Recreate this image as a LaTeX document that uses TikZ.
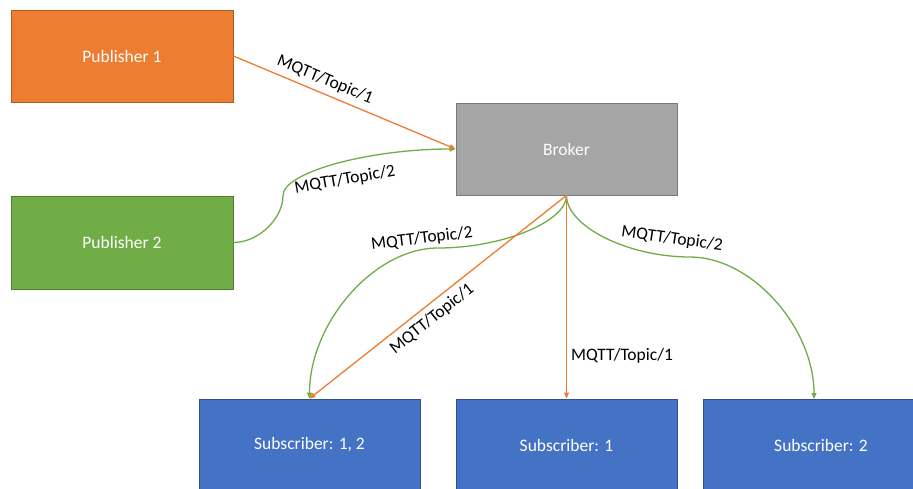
\documentclass[tikz,border=0pt]{standalone}
\usepackage{fontspec}
\setmainfont{Carlito}
\usetikzlibrary{arrows.meta}
\definecolor{cOrange}{HTML}{ED7D31}
\definecolor{cOrangeD}{HTML}{AE5A21}
\definecolor{cGreen}{HTML}{70AD47}
\definecolor{cGreenD}{HTML}{507E32}
\definecolor{cGray}{HTML}{A5A5A5}
\definecolor{cGrayD}{HTML}{787878}
\definecolor{cBlue}{HTML}{4472C4}
\definecolor{cBlueD}{HTML}{2F528F}
\begin{document}
\begin{tikzpicture}[x=1pt,y=-1pt,
  box/.style={draw, line width=0.8pt, minimum width=222pt, minimum height=92pt, inner sep=0pt, text=white, font=\fontsize{17.5}{20}\selectfont},
  lbl/.style={font=\fontsize{17.5}{20}\selectfont, text=black, inner sep=0pt},
  conn/.style={line width=1.3pt, -{Triangle[length=6pt,width=5pt]}}]
\useasboundingbox (0,0) rectangle (913,489);
\clip (0,0) rectangle (913,489);
\fill[white] (0,0) rectangle (913,489);

\node[box, fill=cOrange, draw=cOrangeD] (p1) at (122,56) {Publisher 1};
\node[box, fill=cGreen, draw=cGreenD, minimum height=93pt] (p2) at (122,242.5) {Publisher 2};
\node[box, fill=cGray, draw=cGrayD, minimum width=221pt] (br) at (566.5,149) {Broker};
\node[box, fill=cBlue, draw=cBlueD, minimum width=221pt] (s12) at (309.5,445) {Subscriber: 1, 2};
\node[box, fill=cBlue, draw=cBlueD, minimum width=221pt] (s1) at (566.5,445) {Subscriber: 1};
\node[box, fill=cBlue, draw=cBlueD, minimum width=236pt] (s2) at (821,445) {Subscriber: 2};

\coordinate (m1) at (283,195.5);
\coordinate (m2) at (438,248);
\coordinate (m3) at (690,257);
\coordinate (s2in) at (814,399);

% green connectors
\draw[conn, cGreen] (p2.east) .. controls +(25,0) and +(0,23.25) .. (m1)
      .. controls +(0,-23.25) and +(-86.5,0) .. (br.west);
\draw[conn, cGreen] (br.south) .. controls +(0,26.5) and +(64,0) .. (m2)
      .. controls +(-64,0) and +(0,-75.5) .. (s12.north);
\draw[conn, cGreen] (br.south) .. controls +(0,31) and +(-62,0) .. (m3)
      .. controls +(62,0) and +(0,-71) .. (s2in);

% orange connectors
\draw[conn, cOrange] (p1.east) -- (br.west);
\draw[conn, cOrange] (br.south) -- (s12.north);
\draw[conn, cOrange] (br.south) -- (s1.north);

% labels
\node[lbl, rotate=-22.4] (l1) at (325,80) {MQTT/Topic/1};
\node[lbl, rotate=10] (l2) at (345,180) {MQTT/Topic/2};
\node[lbl, rotate=7] (l3) at (422,239) {MQTT/Topic/2};
\node[lbl, rotate=38.6] (l4) at (432,319) {MQTT/Topic/1};
\node[lbl] (l5) at (622,356) {MQTT/Topic/1};
\node[lbl, rotate=-8] (l6) at (672,239) {MQTT/Topic/2};
\end{tikzpicture}
\end{document}
